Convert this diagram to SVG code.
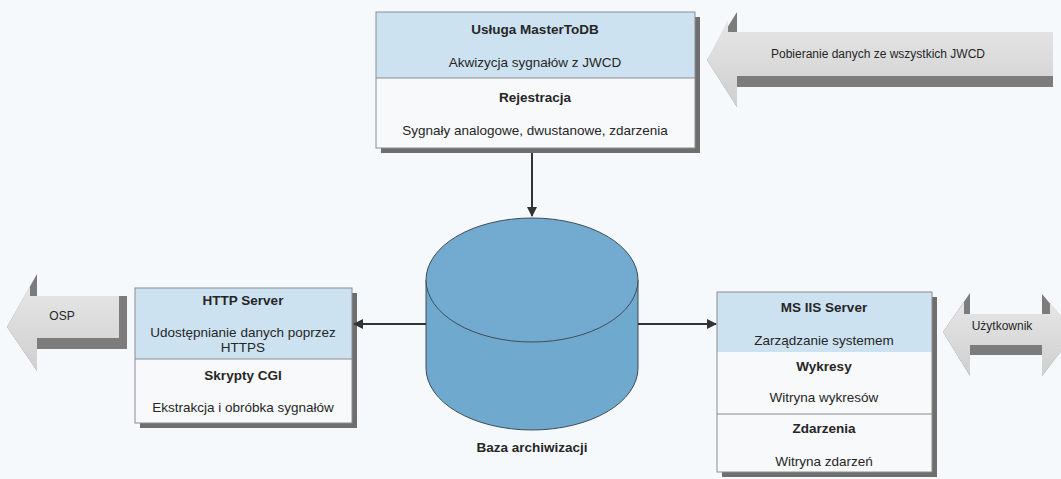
<svg xmlns="http://www.w3.org/2000/svg" width="1061" height="479" viewBox="0 0 1061 479">
<defs>
<style>
.t{font-family:"Liberation Sans",Arial,sans-serif;font-size:13.5px;fill:#262626;text-anchor:middle}
.b{font-weight:bold;font-size:13.5px}
.s{font-size:12px}
.shadow{fill:#6e6e6e}
.blue{fill:#cde2f1}
.white{fill:#f7f9fa}
.frame{fill:none;stroke:#8c8c8c;stroke-width:1}
.div{stroke:#8c8c8c;stroke-width:1}
.ad{fill:#7c7c7c}
.con{stroke:#333;stroke-width:2;fill:none}
</style>
<linearGradient id="ag" x1="0" y1="0" x2="0" y2="1">
<stop offset="0" stop-color="#e6e6e6"/><stop offset="1" stop-color="#cfcfcf"/>
</linearGradient>
<marker id="ah" viewBox="0 0 10 10" refX="9" refY="5" markerWidth="5" markerHeight="5" orient="auto">
<path d="M0,0 L10,5 L0,10 Z" fill="#333"/>
</marker>
</defs>
<rect width="1061" height="479" fill="#f6f9fb"/>

<g id="arrow-jwcd">
<polygon class="ad" points="707,60 737,12 737,32 1053,32 1053,87 737,87 737,107"/>
<polygon fill="url(#ag)" points="707,60 728,20 728,32 1053,32 1053,76 737,76 737,107"/>
<text class="t s" x="878" y="58">Pobieranie danych ze wszystkich JWCD</text>
</g>

<g id="arrow-osp">
<polygon class="ad" points="7,327 37,274 37,296 127,296 127,349 37,349 37,371"/>
<polygon fill="url(#ag)" points="7,327 30,286 30,296 119,296 119,338 37,338 37,371"/>
<text class="t s" x="62" y="320">OSP</text>
</g>

<g id="arrow-user">
<polygon class="ad" points="943,332 970,293 970,314 1042,314 1042,294 1075,333 1042,376 1042,355 970,355 970,376"/>
<polygon fill="url(#ag)" points="943,332 964,302 964,314 1050,314 1050,303 1075,333 1042,376 1042,345 970,345 970,376"/>
<text class="t s" x="1002" y="330">Użytkownik</text>
</g>

<g id="node-masterdb">
<rect class="shadow" x="381" y="17" width="319" height="136"/>
<rect class="white" x="376" y="12" width="319" height="136"/>
<rect class="blue" x="376" y="12" width="319" height="66"/>
<line class="div" x1="376" y1="78" x2="695" y2="78"/>
<rect class="frame" x="376" y="12" width="319" height="136"/>
<text class="t b" x="535" y="34">Usługa MasterToDB</text>
<text class="t" x="535" y="67">Akwizycja sygnałów z JWCD</text>
<text class="t b" x="535" y="102">Rejestracja</text>
<text class="t" x="535" y="135">Sygnały analogowe, dwustanowe, zdarzenia</text>
</g>

<g id="node-http">
<rect class="shadow" x="140" y="293" width="217" height="135"/>
<rect class="white" x="135" y="288" width="217" height="135"/>
<rect class="blue" x="135" y="288" width="217" height="71"/>
<line class="div" x1="135" y1="359" x2="352" y2="359"/>
<rect class="frame" x="135" y="288" width="217" height="135"/>
<text class="t b" x="243" y="305">HTTP Server</text>
<text class="t" x="243" y="337">Udostępnianie danych poprzez</text>
<text class="t" x="243" y="352">HTTPS</text>
<text class="t b" x="243" y="380">Skrypty CGI</text>
<text class="t" x="243" y="412">Ekstrakcja i obróbka sygnałów</text>
</g>

<g id="node-msiis">
<rect class="shadow" x="722" y="297" width="215" height="180"/>
<rect class="white" x="717" y="292" width="215" height="180"/>
<rect class="blue" x="717" y="292" width="215" height="60"/>
<line class="div" x1="717" y1="414" x2="932" y2="414"/>
<rect class="frame" x="717" y="292" width="215" height="180"/>
<text class="t b" x="824" y="312">MS IIS Server</text>
<text class="t" x="824" y="345">Zarządzanie systemem</text>
<text class="t b" x="824" y="371">Wykresy</text>
<text class="t" x="824" y="402">Witryna wykresów</text>
<text class="t b" x="824" y="433">Zdarzenia</text>
<text class="t" x="824" y="466">Witryna zdarzeń</text>
</g>

<g id="node-db">
<path d="M426,280 L426,368 A106,62 0 0 0 638,368 L638,280 Z" fill="#6fa9cd" stroke="#3d4d58" stroke-width="1"/>
<ellipse cx="532" cy="280" rx="106" ry="62" fill="#72abcf" stroke="#3d4d58" stroke-width="1"/>
<text class="t b" x="532" y="452">Baza archiwizacji</text>
</g>

<g id="connectors">
<line class="con" x1="532" y1="153" x2="532" y2="216" marker-end="url(#ah)"/>
<line class="con" x1="426" y1="324" x2="354" y2="324" marker-end="url(#ah)"/>
<line class="con" x1="638" y1="324" x2="716" y2="324" marker-end="url(#ah)"/>
</g>
</svg>
